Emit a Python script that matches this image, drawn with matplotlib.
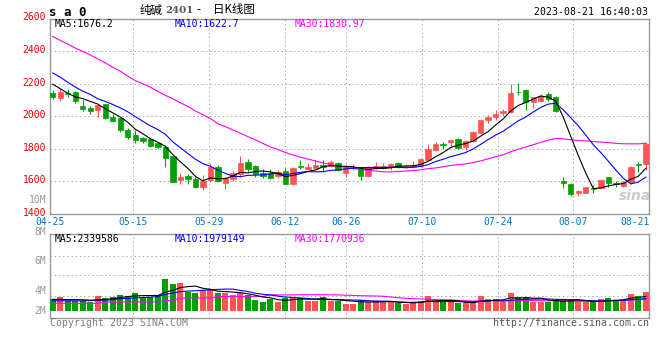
import matplotlib
matplotlib.use("Agg")
import matplotlib.pyplot as plt
import matplotlib.transforms as mtransforms
import numpy as np
import pandas as pd

# ---------------- data ----------------
opens = [2140, 2110, 2140, 2147, 2059, 2049, 2039, 2071, 1994, 1988,
         1912, 1882, 1865, 1857, 1831, 1810, 1753, 1606, 1633, 1612,
         1565, 1606, 1688, 1590, 1612, 1643, 1716, 1694, 1651, 1647,
         1631, 1661, 1584, 1690, 1676, 1682, 1700, 1692, 1708, 1647,
         1678, 1671, 1633, 1680, 1680, 1688, 1712, 1684, 1688, 1694,
         1729, 1790, 1825, 1837, 1857, 1810, 1845, 1896, 1973, 1994,
         2018, 2024, 2149, 2163, 2086, 2092, 2133, 2120, 1600, 1582,
         1524, 1528, 1557, 1559, 1623, 1588, 1571, 1594, 1704, 1702]
highs = [2157, 2173, 2167, 2151, 2096, 2059, 2071, 2075, 2014, 1990,
         1927, 1912, 1871, 1867, 1841, 1820, 1759, 1651, 1641, 1627,
         1637, 1708, 1698, 1627, 1661, 1753, 1735, 1698, 1671, 1671,
         1667, 1678, 1688, 1729, 1708, 1729, 1729, 1729, 1714, 1698,
         1702, 1678, 1692, 1718, 1708, 1708, 1718, 1702, 1722, 1739,
         1827, 1841, 1841, 1861, 1865, 1851, 1906, 1984, 2004, 2035,
         2045, 2198, 2204, 2167, 2116, 2133, 2147, 2124, 1625, 1586,
         1545, 1565, 1575, 1612, 1627, 1600, 1602, 1694, 1719, 1842]
lows = [2106, 2092, 2116, 2080, 2031, 2014, 1994, 1980, 1963, 1902,
        1861, 1831, 1831, 1810, 1800, 1688, 1596, 1582, 1582, 1555,
        1545, 1596, 1596, 1549, 1602, 1627, 1657, 1627, 1616, 1612,
        1620, 1580, 1576, 1671, 1671, 1678, 1657, 1688, 1661, 1627,
        1667, 1606, 1627, 1671, 1671, 1667, 1678, 1678, 1678, 1686,
        1724, 1786, 1796, 1814, 1800, 1790, 1837, 1892, 1959, 1973,
        2000, 2020, 2131, 2039, 2051, 2086, 2092, 2024, 1555, 1508,
        1508, 1528, 1528, 1555, 1565, 1565, 1565, 1580, 1657, 1668]
closes = [2115, 2147, 2135, 2092, 2045, 2031, 2065, 1988, 1969, 1916,
          1871, 1851, 1847, 1816, 1810, 1743, 1596, 1627, 1614, 1565,
          1602, 1688, 1602, 1616, 1647, 1712, 1673, 1643, 1633, 1620,
          1655, 1584, 1682, 1686, 1688, 1700, 1684, 1716, 1667, 1684,
          1688, 1633, 1684, 1692, 1692, 1702, 1684, 1692, 1698, 1733,
          1796, 1827, 1820, 1855, 1806, 1845, 1902, 1973, 1994, 2010,
          2031, 2143, 2145, 2086, 2116, 2126, 2106, 2029, 1588, 1522,
          1540, 1565, 1553, 1606, 1586, 1582, 1596, 1685, 1698, 1830]
volumes_m = [1.86, 2.17, 1.63, 1.63, 1.63, 1.48, 2.38, 2.02, 2.17, 2.54,
             2.38, 2.86, 2.27, 2.27, 2.49, 5.08, 4.29, 4.44, 3.06, 2.90,
             3.33, 3.49, 2.90, 2.81, 2.49, 2.90, 2.54, 1.75, 1.43, 1.86,
             1.43, 2.02, 2.27, 2.02, 1.63, 1.63, 2.27, 1.63, 1.63, 1.16,
             1.16, 1.75, 1.48, 1.59, 1.38, 1.38, 1.22, 1.16, 1.38, 1.63,
             2.43, 1.48, 1.48, 1.48, 1.22, 1.22, 1.22, 2.43, 1.90, 1.90,
             1.38, 2.86, 2.22, 2.22, 1.48, 1.38, 1.38, 1.75, 1.75, 1.75,
             1.38, 1.38, 1.38, 1.90, 2.11, 1.75, 1.75, 2.70, 2.38, 3.02]

# moving-average values before enough history exists
ma5_head = [2196, 2168, 2140, 2118]
ma10_head = [2265, 2239, 2208, 2178, 2153, 2133, 2106, 2090, 2071]
ma30_head = [2490, 2465, 2443, 2418, 2398, 2376, 2351, 2327, 2300, 2276,
             2245, 2218, 2198, 2178, 2151, 2127, 2106, 2082, 2059, 2031,
             2008, 1984, 1953, 1935, 1914, 1894, 1873, 1853, 1831]
vol_ma5_head = [1.85, 1.85, 1.80, 1.80]
vol_ma10_head = [1.62, 1.62, 1.62, 1.62, 1.62, 1.65, 1.70, 1.75, 1.80]
vol_ma30_head = [1.22, 1.22, 1.22, 1.22, 1.22, 1.22, 1.22, 1.43, 1.43, 1.43,
                 1.43, 1.43, 1.43, 1.43, 1.43, 1.67, 1.67, 2.06, 2.06, 2.06,
                 2.06, 2.06, 2.30, 2.30, 2.30, 2.30, 2.30, 2.30, 2.30]

tick_idx = [0, 11, 21, 31, 39, 49, 59, 69, 79]
tick_labels = ["04-25", "05-15", "05-29", "06-12", "06-26",
               "07-10", "07-24", "08-07", "08-21"]
price_ticks = [1400, 1600, 1800, 2000, 2200, 2400, 2600]
vol_labels = ["10M", "8M", "6M", "4M", "2M"]

price_ma_texts = ["MA5:1676.2", "MA10:1622.7", "MA30:1830.97"]
vol_ma_texts = ["MA5:2339586", "MA10:1979149", "MA30:1770936"]
symbol_text = "s a 0"
title_name = "纯碱"
title_code = "2401"
title_rest = "日K线图"
stamp_text = "2023-08-21 16:40:03"
copyright_text = "Copyright 2023 SINA.COM"
url_text = "http://finance.sina.com.cn"

# ---------------- styling ----------------
RED = "#ff5454"
GREEN = "#00a000"
MA_COLORS = ["#000000", "#0000ff", "#ff00ff"]
GRID = "#aaaaaa"
FRAME = "#999999"
MONO = "DejaVu Sans Mono"
CJK = ["Noto Sans CJK SC", "DejaVu Sans"]

W, H = 660, 360
plt.rcParams["font.family"] = [MONO, "DejaVu Sans"]

def fx(px):
    return px / W

def fy(py):
    return 1 - py / H

def moving_avg(values, n, head):
    s = pd.Series(values, dtype=float).rolling(n).mean().to_numpy()
    s[:len(head)] = head
    return s

o = np.array(opens, float)
h = np.array(highs, float)
l = np.array(lows, float)
c = np.array(closes, float)
v = np.array(volumes_m, float)
n = len(c)
x = np.arange(n)
up = c >= o
colors = np.where(up, RED, GREEN)

ma5 = moving_avg(c, 5, ma5_head)
ma10 = moving_avg(c, 10, ma10_head)
ma30 = moving_avg(c, 30, ma30_head)
vma5 = moving_avg(v, 5, vol_ma5_head)
vma10 = moving_avg(v, 10, vol_ma10_head)
vma30 = moving_avg(v, 30, vol_ma30_head)

fig = plt.figure(figsize=(W / 100, H / 100), dpi=100)
fig.patch.set_facecolor("white")

L, R = 50, 649.3
ax = fig.add_axes([fx(L), fy(213.5), (R - L) / W, (213.5 - 18.5) / H])
ax2 = fig.add_axes([fx(L), fy(318), (R - L) / W, (318 - 234) / H])

xlim = (-0.36, 79.46)
# date grid positions are spread evenly across the frame (as in the original)
tick_pos = [xlim[0] + i / (n - 1) * (xlim[1] - xlim[0]) for i in tick_idx]

dotted = dict(color=GRID, linestyle=(0, (1.4, 2.8)), linewidth=0.72)

# ---- price panel ----
ax.vlines(x, l, h, colors=colors, linewidth=0.75, zorder=2)
body_bottom = np.minimum(o, c)
body_h = np.maximum(np.abs(c - o), 0.6)
ax.bar(x, body_h, bottom=body_bottom, width=0.72, color=colors,
       edgecolor=colors, linewidth=0.5, zorder=3)
for series, col in zip([ma30, ma10, ma5], MA_COLORS[::-1]):
    ax.plot(x, series, color=col, linewidth=0.8, zorder=4)

ax.set_xlim(*xlim)
ax.set_ylim(price_ticks[0], price_ticks[-1])
ax.set_yticks(price_ticks)
ax.set_yticklabels([str(t) for t in price_ticks])
ax.set_xticks(tick_pos)
ax.set_xticklabels(tick_labels)
ax.grid(True, **dotted)
ax.set_axisbelow(True)
ax.tick_params(axis="both", length=0, labelsize=7)
ax.tick_params(axis="y", colors="#ee0000", pad=2.9)
ax.tick_params(axis="x", colors="#0077cc", pad=2.2)
up_shift = mtransforms.ScaledTranslation(0, 2 / 100, fig.dpi_scale_trans)
for lab in ax.get_yticklabels():
    lab.set_transform(lab.get_transform() + up_shift)
xl = ax.get_xticklabels()
xl[-1].set_horizontalalignment("right")

# ---- volume panel ----
ax2.bar(x, v, width=0.8, color=colors, linewidth=0, zorder=3)
for series, col in zip([vma30, vma10, vma5], MA_COLORS[::-1]):
    ax2.plot(x, series, color=col, linewidth=0.8, zorder=4)
ax2.set_xlim(*xlim)
vlo, vhi = -1.11, 12.22
ax2.set_ylim(vlo, vhi)
ax2.set_yticks([vlo + f * (vhi - vlo) for f in (0.265, 0.508, 0.742)])
ax2.set_xticks(tick_pos)
ax2.set_xticklabels([])
ax2.set_yticklabels([])
ax2.grid(True, **dotted)
ax2.set_axisbelow(True)
ax2.tick_params(axis="both", length=0)

for a in (ax, ax2):
    for s in a.spines.values():
        s.set_color(FRAME)
        s.set_linewidth(1.0)

# ---- texts ----
fig.text(fx(49), fy(12), symbol_text, fontsize=9, fontweight="bold",
         family=MONO, va="center", ha="left")
fig.text(fx(140), fy(10), title_name, fontsize=8.3, family=CJK,
         va="center", ha="left")
fig.text(fx(165), fy(10.5), title_code, fontsize=7.4, family=["DejaVu Serif"],
         fontweight="bold", color="#555555", va="center", ha="left")
fig.text(fx(196), fy(10), "-", fontsize=8.3, family=CJK, va="center", ha="left")
fig.text(fx(213), fy(10), title_rest, fontsize=8.3, family=CJK,
         va="center", ha="left")
fig.text(fx(648.5), fy(12), stamp_text, fontsize=7.1, family=MONO,
         va="center", ha="right")

for txt, col, px in zip(price_ma_texts, MA_COLORS, (55, 175, 295)):
    fig.text(fx(px), fy(24), txt, fontsize=7, family=MONO, color=col,
             va="center", ha="left")
for txt, col, px in zip(vol_ma_texts, MA_COLORS, (55, 175, 295)):
    fig.text(fx(px), fy(238.5), txt, fontsize=7, family=MONO, color=col,
             va="center", ha="left")

for txt, py in zip(vol_labels, (200, 231.5, 260.7, 290.7, 310.7)):
    fig.text(fx(46), fy(py), txt, fontsize=7, family=MONO, color="#999999",
             va="center", ha="right")

fig.text(fx(50), fy(323), copyright_text, fontsize=7.1, family=MONO,
         color="#808080", va="center", ha="left")
fig.text(fx(649), fy(323), url_text, fontsize=7.1, family=MONO,
         color="#555555", va="center", ha="right")

# sina watermark
fig.text(fx(651), fy(196), "sina", fontsize=10, fontweight="bold",
         style="italic", family=["DejaVu Sans"], color="#c4c4c4",
         va="center", ha="right", alpha=0.9)

fig.savefig("out.png", dpi=100, facecolor="white")
